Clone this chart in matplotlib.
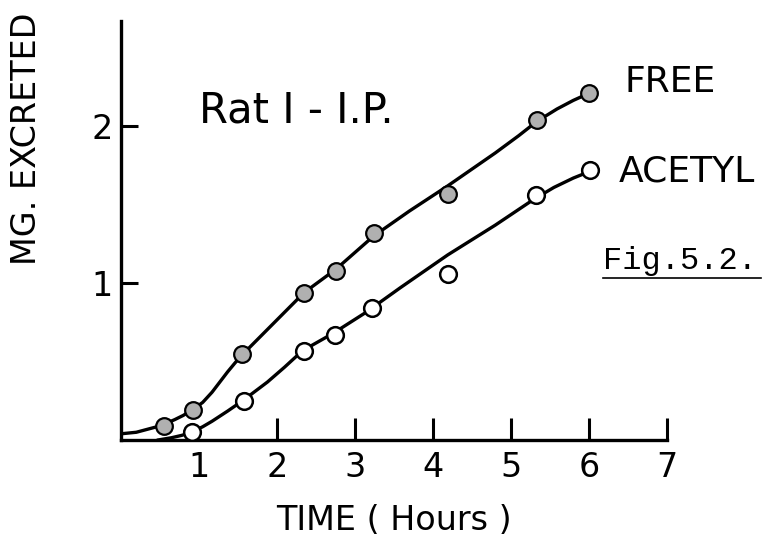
import matplotlib
matplotlib.use("Agg")
import matplotlib.pyplot as plt

# ---- data ----
free_t = [0.56, 0.92, 1.56, 2.35, 2.76, 3.24, 4.19, 5.33, 6.00]
free_mg = [0.09, 0.19, 0.55, 0.94, 1.08, 1.32, 1.57, 2.04, 2.21]
acetyl_t = [0.91, 1.58, 2.35, 2.74, 3.22, 4.19, 5.32, 6.01]
acetyl_mg = [0.05, 0.25, 0.57, 0.67, 0.84, 1.06, 1.56, 1.72]

# hand-drawn smooth curves at knots
free_curve_t = [0.0, 0.2, 0.35, 0.5, 0.69, 0.8, 0.91, 1.05, 1.17, 1.27, 1.37, 1.47, 1.56, 1.81, 2.05, 2.35,
                2.76, 3.24, 3.7, 4.19, 4.8, 5.1, 5.33, 5.59, 5.8, 6.0]
free_curve_mg = [0.04, 0.05, 0.07, 0.09, 0.13, 0.157, 0.19, 0.24, 0.305, 0.37, 0.435, 0.495, 0.545, 0.67, 0.79, 0.94,
                 1.09, 1.30, 1.46, 1.62, 1.83, 1.94, 2.03, 2.11, 2.165, 2.21]
acetyl_curve_t = [0.47, 0.65, 0.78, 0.91, 1.05, 1.17, 1.37, 1.56, 1.88, 2.1, 2.33, 2.72, 3.13, 3.58,
                  4.19, 4.8, 5.28, 5.55, 5.8, 6.0]
acetyl_curve_mg = [0.0, 0.015, 0.03, 0.05, 0.085, 0.12, 0.185, 0.25, 0.37, 0.465, 0.57, 0.68, 0.81, 0.97,
                   1.18, 1.37, 1.53, 1.61, 1.67, 1.71]

x_ticks = [1, 2, 3, 4, 5, 6, 7]
x_tick_labels = ["1", "2", "3", "4", "5", "6", "7"]
y_ticks = [1, 2]
y_tick_labels = ["1", "2"]

sans = "DejaVu Sans"
mono = "Liberation Mono"

fig = plt.figure(figsize=(7.64, 5.42), dpi=100)
ax = fig.add_axes([0.158, 0.188, 0.715, 0.773])
ax.set_xlim(0, 7)
ax.set_ylim(0, 2.67)

ax.plot(free_curve_t, free_curve_mg, color="black", lw=2.4, solid_capstyle="round",
        solid_joinstyle="round", zorder=2)
ax.plot(acetyl_curve_t, acetyl_curve_mg, color="black", lw=2.4, solid_capstyle="round",
        solid_joinstyle="round", zorder=2)
ax.plot(free_t, free_mg, linestyle="none", marker="o", ms=12, mfc="#b0b0b0", mec="black", mew=1.6, zorder=3)
ax.plot(acetyl_t, acetyl_mg, linestyle="none", marker="o", ms=12, mfc="white", mec="black", mew=1.8, zorder=3)

for s in ["top", "right"]:
    ax.spines[s].set_visible(False)
for s in ["left", "bottom"]:
    ax.spines[s].set_linewidth(2.4)

ax.set_xticks(x_ticks)
ax.set_xticklabels(x_tick_labels, fontfamily=sans, fontsize=24)
ax.set_yticks(y_ticks)
ax.set_yticklabels(y_tick_labels, fontfamily=sans, fontsize=24)
ax.tick_params(axis="x", direction="in", length=16, width=2.2, pad=8)
ax.tick_params(axis="y", direction="in", length=12, width=2.2, pad=6)
ax.xaxis.get_major_ticks()[0].tick1line.set_visible(False)

ax.set_xlabel("TIME ( Hours )", fontfamily=sans, fontsize=24, labelpad=14)
ax.set_ylabel("MG. EXCRETED", fontfamily=sans, fontsize=24)
ax.yaxis.set_label_coords(-0.143, 0.72)

ax.text(1.0, 2.10, "Rat I - I.P.", fontfamily=sans, fontsize=30, va="center", ha="left")
ax.text(6.45, 2.28, "FREE", fontfamily=sans, fontsize=26, va="center", ha="left", clip_on=False)
ax.text(6.38, 1.71, "ACETYL", fontfamily=sans, fontsize=26, va="center", ha="left", clip_on=False)
ax.text(6.18, 1.14, "Fig.5.2.", fontfamily=mono, fontsize=23, va="center", ha="left", clip_on=False)
ax.plot([6.18, 8.2], [1.03, 1.03], color="black", lw=1.2, clip_on=False)

fig.savefig("out.png", dpi=100)
